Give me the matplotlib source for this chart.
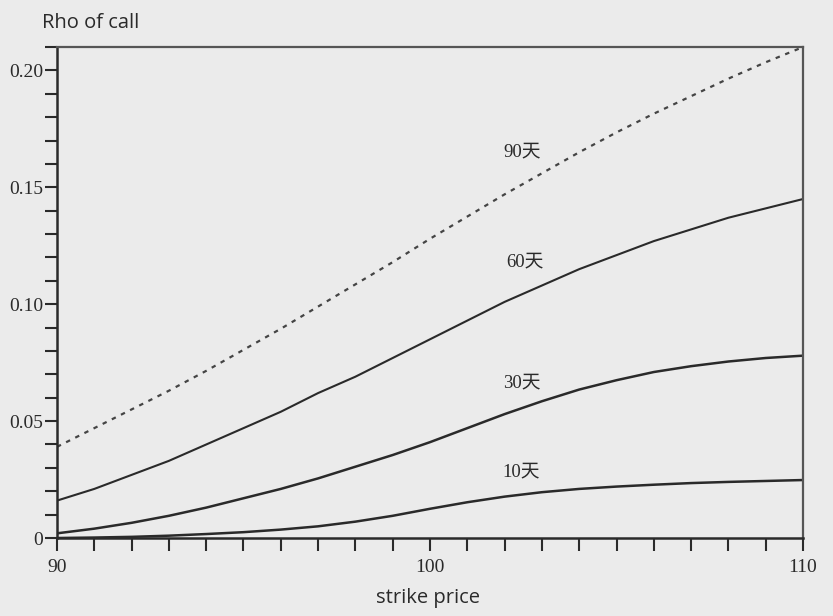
import matplotlib
matplotlib.use("Agg")
import matplotlib.pyplot as plt
from matplotlib.ticker import MultipleLocator, FuncFormatter

strike = [90, 91, 92, 93, 94, 95, 96, 97, 98, 99, 100,
          101, 102, 103, 104, 105, 106, 107, 108, 109, 110]
rho_90d = [0.039, 0.047, 0.055, 0.063, 0.0715, 0.0805, 0.0895, 0.099, 0.1085, 0.118, 0.128,
           0.1375, 0.147, 0.156, 0.165, 0.1735, 0.1815, 0.189, 0.1965, 0.2035, 0.210]
rho_60d = [0.016, 0.021, 0.027, 0.033, 0.040, 0.047, 0.054, 0.062, 0.069, 0.077, 0.085,
           0.093, 0.101, 0.108, 0.115, 0.121, 0.127, 0.132, 0.137, 0.141, 0.145]
rho_30d = [0.002, 0.004, 0.0065, 0.0095, 0.013, 0.017, 0.021, 0.0255, 0.0305, 0.0355, 0.041,
           0.047, 0.053, 0.0585, 0.0635, 0.0675, 0.071, 0.0735, 0.0755, 0.077, 0.078]
rho_10d = [0.0, 0.0002, 0.0005, 0.001, 0.0017, 0.0025, 0.0036, 0.005, 0.007, 0.0095, 0.0125,
           0.0153, 0.0177, 0.0196, 0.021, 0.022, 0.0228, 0.0235, 0.024, 0.0244, 0.0248]
curve_labels = ["90天", "60天", "30天", "10天"]
label_pos = [(102.47, 0.165), (102.55, 0.118), (102.45, 0.0663), (102.45, 0.0282)]

bg = "#ebebeb"
ink = "#2a2a2a"

fig = plt.figure(figsize=(8.33, 6.16), dpi=100, facecolor=bg)
ax = fig.add_axes([0.0684, 0.1266, 0.8956, 0.797], facecolor=bg)

ax.plot(strike, rho_90d, color="#444444", lw=1.6, linestyle=(0, (2.0, 2.6)))
ax.plot(strike, rho_60d, color=ink, lw=1.5)
ax.plot(strike, rho_30d, color=ink, lw=1.8)
ax.plot(strike, rho_10d, color=ink, lw=1.8)

serif_cjk = ["Liberation Serif", "Noto Sans CJK SC"]
for lab, (x, y) in zip(curve_labels, label_pos):
    ax.text(x, y, lab, ha="center", va="center", fontsize=13.5,
            family=serif_cjk, color=ink)

ax.set_xlim(90, 110)
ax.set_ylim(0, 0.21)
ax.xaxis.set_major_locator(MultipleLocator(10))
ax.xaxis.set_minor_locator(MultipleLocator(1))
ax.yaxis.set_major_locator(MultipleLocator(0.05))
ax.yaxis.set_minor_locator(MultipleLocator(0.01))
ax.yaxis.set_major_formatter(FuncFormatter(lambda v, p: "0" if abs(v) < 1e-9 else f"{v:.2f}"))
ax.xaxis.set_major_formatter(FuncFormatter(lambda v, p: f"{v:.0f}"))

ax.tick_params(which="both", direction="out", length=9, width=1.5, color=ink,
               labelsize=14, labelcolor=ink)
ax.tick_params(axis="x", which="major", pad=6)
ax.tick_params(axis="y", which="major", pad=1)
for lbl in ax.get_xticklabels() + ax.get_yticklabels():
    lbl.set_family("Liberation Serif")

for side in ["left", "bottom"]:
    ax.spines[side].set_color(ink)
    ax.spines[side].set_linewidth(1.8)
for side in ["top", "right"]:
    ax.spines[side].set_color("#555555")
    ax.spines[side].set_linewidth(1.6)

fig.text(0.050, 0.963, "Rho of call", fontsize=14.5, family="Open Sans",
         color=ink, ha="left", va="center")
fig.text(0.514, 0.029, "strike price", fontsize=14.5, family="Open Sans",
         color=ink, ha="center", va="center")

fig.savefig("out.png", dpi=100, facecolor=bg)
